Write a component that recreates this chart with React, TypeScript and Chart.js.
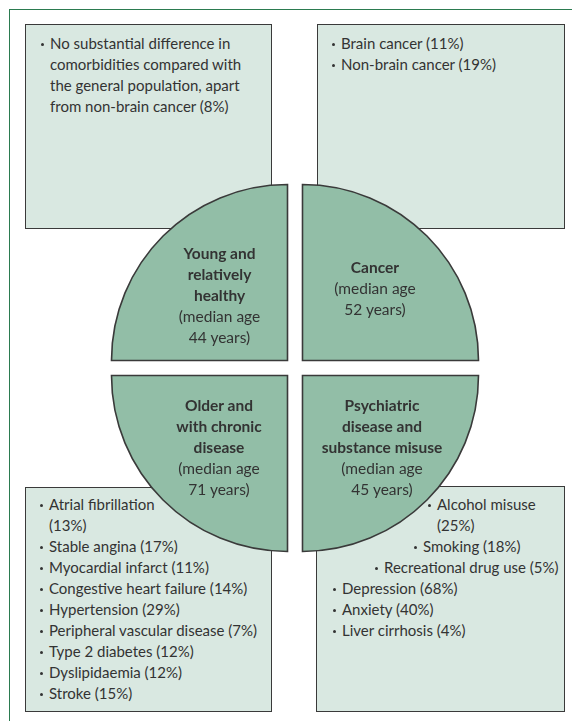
import React, { useEffect, useRef } from 'react';
import { Chart, registerables } from 'chart.js';

Chart.register(...registerables);

// Pie order (clockwise from top): top-right, bottom-right, bottom-left, top-left
const clusters = [
  'Cancer',
  'Psychiatric disease and substance misuse',
  'Older and with chronic disease',
  'Young and relatively healthy',
];
const quadrantShare = [1, 1, 1, 1];
const medianAges = [52, 45, 71, 44];
const clusterTitleLines = [
  ['Cancer'],
  ['Psychiatric', 'disease and', 'substance misuse'],
  ['Older and', 'with chronic', 'disease'],
  ['Young and', 'relatively', 'healthy'],
];

const youngItems = [
  'No substantial difference in\ncomorbidities compared with\nthe general population, apart\nfrom non-brain cancer (8%)',
];
const cancerItems = ['Brain cancer (11%)', 'Non-brain cancer (19%)'];
const olderItems = [
  'Atrial fibrillation\n(13%)',
  'Stable angina (17%)',
  'Myocardial infarct (11%)',
  'Congestive heart failure (14%)',
  'Hypertension (29%)',
  'Peripheral vascular disease (7%)',
  'Type 2 diabetes (12%)',
  'Dyslipidaemia (12%)',
  'Stroke (15%)',
];
const psychItems = [
  'Alcohol misuse\n(25%)',
  'Smoking (18%)',
  'Recreational drug use (5%)',
  'Depression (68%)',
  'Anxiety (40%)',
  'Liver cirrhosis (4%)',
];

// ---- layout (positions / styles) ----
const FONT = 'Lato, "Open Sans", sans-serif';
const TEXT = '#333333';
const LH = 21;

const boxes = [
  { left: 25, top: 24, width: 247, height: 205, items: youngItems, textTop: 33, indents: [50] },
  { left: 317, top: 24, width: 248, height: 205, items: cancerItems, textTop: 33, indents: [341, 341] },
  { left: 25, top: 487, width: 247, height: 225, items: olderItems, textTop: 494, indents: [49, 49, 49, 49, 49, 49, 49, 49, 49] },
  { left: 316, top: 486, width: 249, height: 226, items: psychItems, textTop: 494, indents: [437, 423, 384, 342, 342, 342] },
];

// centre x and first-line top of each cluster label, in pie order
const labelPos = [
  { cx: 375, top: 257 },
  { cx: 382, top: 395 },
  { cx: 219, top: 395 },
  { cx: 219.5, top: 243 },
];

export default function App() {
  const canvasRef = useRef<HTMLCanvasElement | null>(null);

  useEffect(() => {
    const canvas = canvasRef.current;
    if (!canvas) return;
    const chart = new Chart(canvas, {
      type: 'pie',
      data: {
        labels: clusters,
        datasets: [
          {
            data: quadrantShare,
            backgroundColor: '#92bea7',
            borderColor: '#3a3a3a',
            borderWidth: 1.6,
            borderJoinStyle: 'miter',
            offset: 42.4,
            hoverOffset: 0,
            radius: 176,
          } as any,
        ],
      },
      options: {
        responsive: false,
        animation: false,
        events: [],
        layout: { padding: { left: 18, top: 15, right: 0, bottom: 0 } },
        plugins: { legend: { display: false }, tooltip: { enabled: false } },
      },
    });
    return () => chart.destroy();
  }, []);

  return (
    <div
      style={{
        position: 'absolute',
        left: 0,
        top: 0,
        width: 572,
        height: 721,
        overflow: 'hidden',
        fontFamily: FONT,
        fontSize: 15,
        color: TEXT,
        background: '#ffffff',
      }}
    >
      {/* outer frame: top and left green rules */}
      <div
        style={{
          position: 'absolute',
          left: 9,
          top: 9,
          width: 563,
          height: 712,
          borderTop: '1.2px solid #2b7b50',
          borderLeft: '1.2px solid #2b7b50',
          boxSizing: 'border-box',
        }}
      />
      {boxes.map((b, bi) => (
        <div
          key={'box' + bi}
          style={{
            position: 'absolute',
            left: b.left,
            top: b.top,
            width: b.width,
            height: b.height,
            background: '#d9e8e1',
            border: '1.6px solid #3a3a3a',
            boxSizing: 'border-box',
          }}
        />
      ))}
      {boxes.map((b, bi) => {
        let line = 0;
        return b.items.map((it, ii) => {
          const top = b.textTop + line * LH;
          line += it.split('\n').length;
          return (
            <div
              key={'t' + bi + '-' + ii}
              style={{
                position: 'absolute',
                left: b.indents[ii],
                top,
                lineHeight: LH + 'px',
                whiteSpace: 'pre',
              }}
            >
              <span
                style={{
                  position: 'absolute',
                  left: -9.5,
                  top: 10,
                  width: 3.4,
                  height: 3.4,
                  borderRadius: '50%',
                  background: TEXT,
                }}
              />
              {it}
            </div>
          );
        });
      })}
      <canvas
        ref={canvasRef}
        width={572}
        height={721}
        style={{ position: 'absolute', left: 0, top: 0, width: 572, height: 721 }}
      />
      {labelPos.map((p, i) => {
        const lines = [
          ...clusterTitleLines[i].map((t) => ({ t, bold: true })),
          { t: '(median age', bold: false },
          { t: medianAges[i] + ' years)', bold: false },
        ];
        return lines.map((l, li) => (
          <div
            key={'l' + i + '-' + li}
            style={{
              position: 'absolute',
              left: p.cx - 100,
              width: 200,
              top: p.top + li * LH,
              lineHeight: LH + 'px',
              fontSize: 15.5,
              textAlign: 'center',
              fontWeight: l.bold ? 700 : 400,
              whiteSpace: 'pre',
            }}
          >
            {l.t}
          </div>
        ));
      })}
    </div>
  );
}
